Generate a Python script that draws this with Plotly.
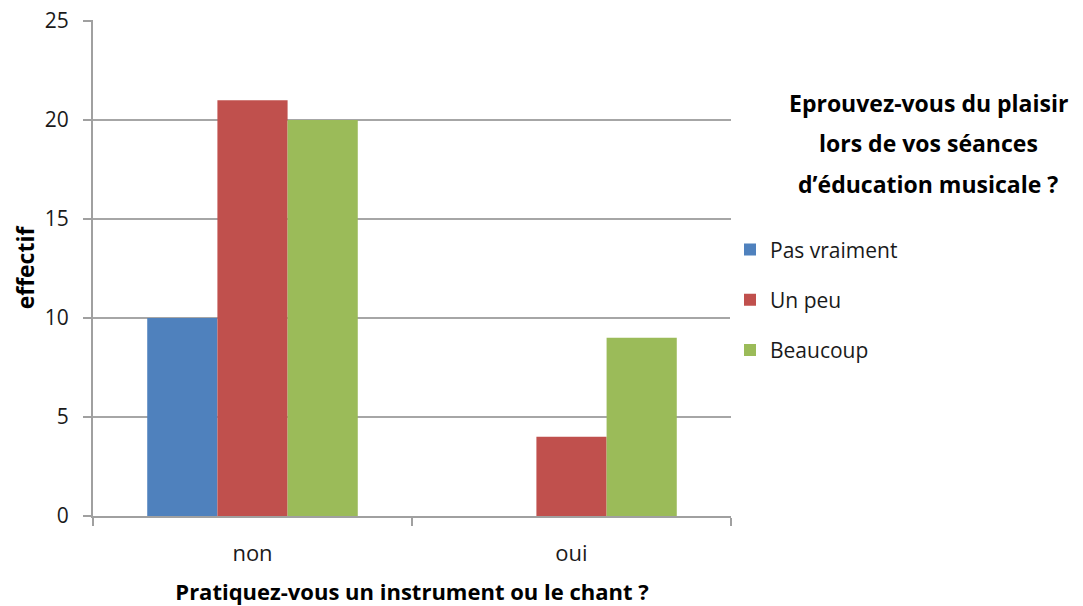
import plotly.graph_objects as go

categories = ["non", "oui"]
series_names = ["Pas vraiment", "Un peu", "Beaucoup"]
pas_vraiment = [10, 0]
un_peu = [21, 4]
beaucoup = [20, 9]
colors = ["#4F81BD", "#C0504D", "#9BBB59"]
y_ticks = [0, 5, 10, 15, 20, 25]
title_lines = ["Eprouvez-vous du plaisir", "lors de vos séances", "d’éducation musicale ?"]

FONT = "Open Sans"
fig = go.Figure()
for i, (name, vals) in enumerate(zip(series_names, [pas_vraiment, un_peu, beaucoup])):
    fig.add_trace(go.Bar(
        x=categories, y=vals, name=name, marker_color=colors[i],
        marker_line_width=0, legendgroup=name,
    ))

# page body has an 8px margin; figure is sized/offset to compensate
title_y = [103, 143, 184]
annotations = []
for line, py in zip(title_lines, title_y):
    annotations.append(dict(
        text=f"<b>{line}</b>", xref="paper", yref="paper",
        x=(928 - 93) / 638, y=(516 - py) / 496, xanchor="center", yanchor="middle",
        showarrow=False, font=dict(family=FONT, size=23, color="black"),
    ))

fig.update_layout(
    width=1075, height=598,
    margin=dict(l=85, r=352, t=12, b=90, autoexpand=False),
    plot_bgcolor="white", paper_bgcolor="white",
    barmode="group", bargap=0.34, bargroupgap=0,
    font=dict(family=FONT, size=21, color="#1a1a1a"),
    showlegend=True,
    legend=dict(x=(730 - 93) / 638, y=0.578, xanchor="left", yanchor="top",
                traceorder="grouped", tracegroupgap=20,
                font=dict(family=FONT, size=21, color="#1a1a1a"),
                itemwidth=30),
    annotations=annotations,
)
fig.update_xaxes(
    automargin=False,
    showline=True, linecolor="#A0A0A0", linewidth=2,
    ticks="outside", tickson="boundaries", ticklen=8, tickcolor="#A0A0A0", tickwidth=2,
    ticklabelstandoff=17,
    title=dict(text="<b>Pratiquez-vous un instrument ou le chant ?</b>", standoff=22,
               font=dict(family=FONT, size=22, color="black")),
    tickfont=dict(family=FONT, size=22, color="#1a1a1a"),
)
fig.update_yaxes(
    automargin=False,
    range=[0, y_ticks[-1] * 1.002], tickvals=y_ticks,
    showline=True, linecolor="#A0A0A0", linewidth=2,
    showgrid=True, gridcolor="#A6A6A6", gridwidth=2,
    ticks="outside", ticklen=8, tickcolor="#A0A0A0", tickwidth=2,
    ticklabelstandoff=10, ticklabeloverflow="allow",
    zeroline=False,
    title=dict(text="<b>effectif</b>", standoff=4,
               font=dict(family=FONT, size=23, color="black")),
    tickfont=dict(family=FONT, size=21, color="#1a1a1a"),
)
fig.write_html("out.html")
